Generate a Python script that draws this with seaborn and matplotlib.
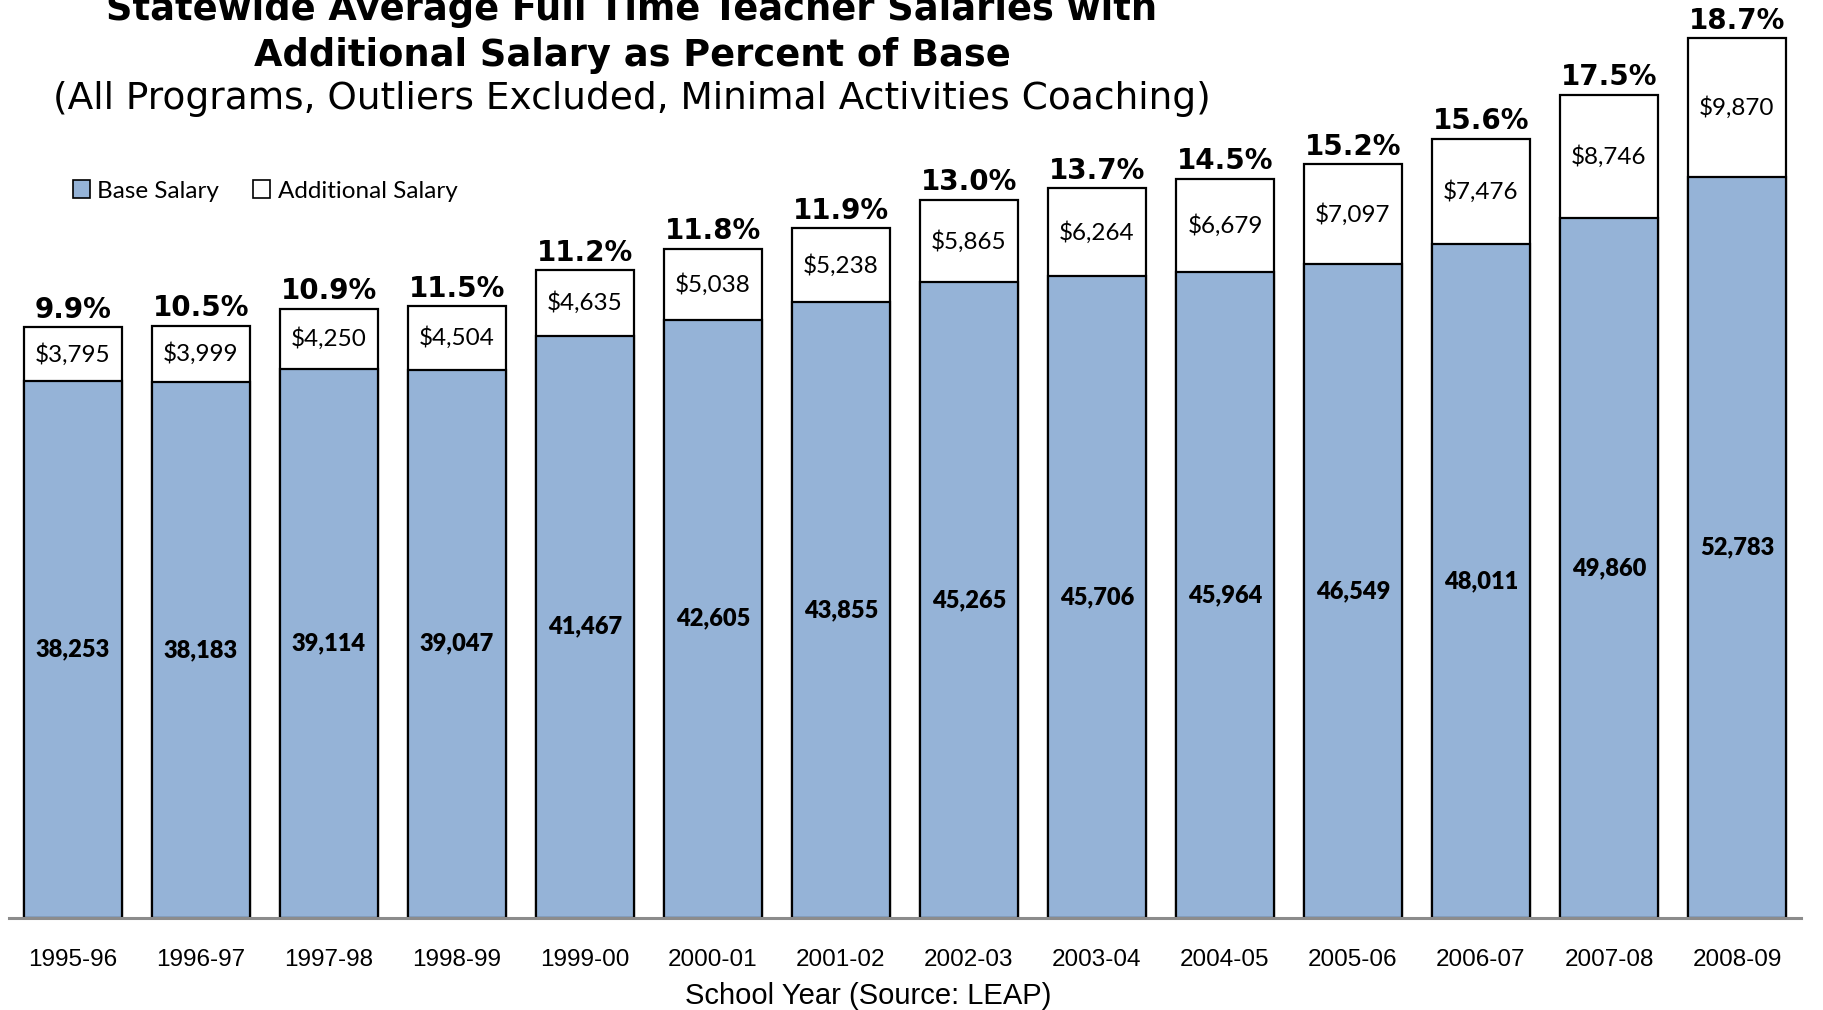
import numpy as np
import pandas as pd
import matplotlib
matplotlib.use("Agg")
import matplotlib.pyplot as plt
from matplotlib.patches import Patch
import seaborn as sns

years = ["1995-96", "1996-97", "1997-98", "1998-99", "1999-00", "2000-01", "2001-02",
         "2002-03", "2003-04", "2004-05", "2005-06", "2006-07", "2007-08", "2008-09"]
base_salary = [38253, 38183, 39114, 39047, 41467, 42605, 43855,
               45265, 45706, 45964, 46549, 48011, 49860, 52783]
additional_salary = [3795, 3999, 4250, 4504, 4635, 5038, 5238,
                     5865, 6264, 6679, 7097, 7476, 8746, 9870]
pct_of_base = ["9.9%", "10.5%", "10.9%", "11.5%", "11.2%", "11.8%", "11.9%",
               "13.0%", "13.7%", "14.5%", "15.2%", "15.6%", "17.5%", "18.7%"]

df = pd.DataFrame({"year": years, "base": base_salary, "additional": additional_salary})
df["total"] = df["base"] + df["additional"]

blue = "#95B3D7"
sns.set_style("white")
plt.rcParams["text.color"] = "black"
plt.rcParams["xtick.color"] = "black"
plt.rcParams["axes.labelcolor"] = "black"

fig = plt.figure(figsize=(18.24, 10.10), dpi=100)
ax = fig.add_axes([9 / 1824, 92 / 1010, 1792 / 1824, 918 / 1010])
ax.set_facecolor("none")

# stacked bars: total (white) first, then base (blue) on top
sns.barplot(data=df, x="year", y="total", color="white", edgecolor="black",
            linewidth=1.6, width=0.76, saturation=1, ax=ax)
sns.barplot(data=df, x="year", y="base", color=blue, edgecolor="black",
            linewidth=1.6, width=0.76, saturation=1, ax=ax)

ax.set_ylim(0, 65357)
ax.set_xlim(-0.5, len(years) - 0.5)

for i, row in df.iterrows():
    ax.text(i, row["base"] / 2, f"{row['base']:,}", ha="center", va="center",
            fontsize=17, fontweight="heavy", family="Lato")
    ax.text(i, row["base"] + row["additional"] / 2, f"${row['additional']:,}",
            ha="center", va="center", fontsize=17.5, family="Lato")
    ax.annotate(pct_of_base[i], (i, row["total"]), xytext=(0, 2.5), textcoords="offset points",
                ha="center", va="bottom", fontsize=20, fontweight="bold", family="DejaVu Sans")

# axis styling
for s in ["top", "left", "right"]:
    ax.spines[s].set_visible(False)
ax.spines["bottom"].set_color("#8c8c8c")
ax.spines["bottom"].set_linewidth(2.2)
ax.set_yticks([])
ax.set_ylabel("")
ax.set_xticks(np.arange(-0.5, len(years)), minor=True)
ax.tick_params(axis="x", which="minor", length=12, width=1, color="#8c8c8c")
ax.tick_params(axis="x", which="major", length=0, pad=22, labelsize=17.5)
for lab in ax.get_xticklabels():
    lab.set_family("Liberation Sans")

ax.set_xlabel("School Year (Source: LEAP)", fontsize=21, family="Liberation Sans", va="center")
ax.xaxis.set_label_coords((868 - 9) / 1792, -78 / 918)

handles = [Patch(facecolor=blue, edgecolor="black", linewidth=1.2),
           Patch(facecolor="white", edgecolor="black", linewidth=1.2)]
leg = ax.legend(handles, ["Base Salary", "Additional Salary"], loc="center left",
                bbox_to_anchor=((73 - 9) / 1792, 1 - 191 / 918), ncol=2, frameon=False,
                prop={"family": "Lato", "size": 17.5}, handlelength=0.7, handleheight=0.7,
                handletextpad=0.3, columnspacing=1.4, borderaxespad=0, borderpad=0)

fig.text(632 / 1824, 1 - 9 / 1010, "Statewide Average Full Time Teacher Salaries with",
         ha="center", va="center", fontsize=26.5, fontweight="bold", family="DejaVu Sans")
fig.text(632 / 1824, 1 - 55 / 1010, "Additional Salary as Percent of Base",
         ha="center", va="center", fontsize=26.5, fontweight="bold", family="DejaVu Sans")
fig.text(632 / 1824, 1 - 99 / 1010, "(All Programs, Outliers Excluded, Minimal Activities Coaching)",
         ha="center", va="center", fontsize=27, family="DejaVu Sans")

fig.savefig("out.png", dpi=100)
